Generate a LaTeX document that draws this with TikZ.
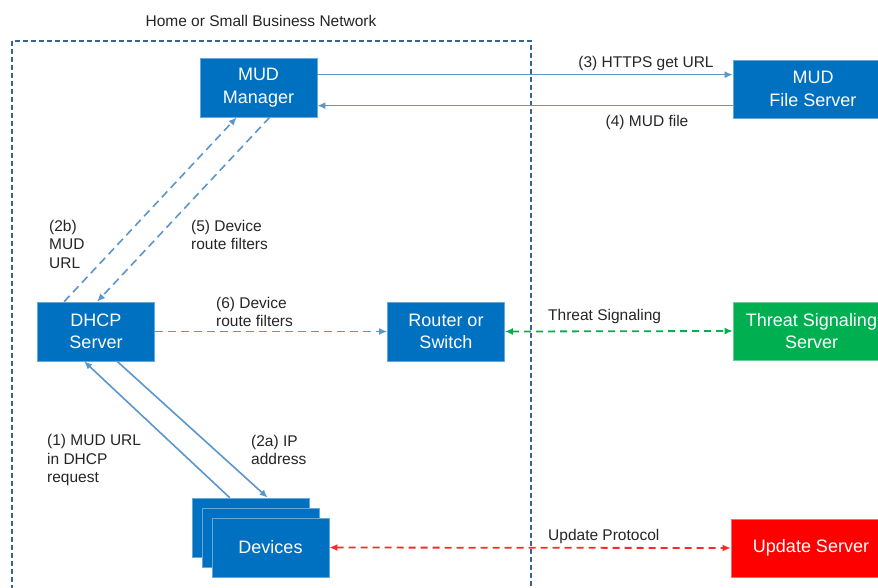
\documentclass[tikz,border=0pt]{standalone}
\usepackage{fontspec}
\setmainfont{Liberation Sans}
\usetikzlibrary{arrows.meta,calc}
\definecolor{boxblue}{RGB}{0,112,192}
\definecolor{boxgreen}{RGB}{0,176,80}
\definecolor{boxred}{RGB}{255,0,0}
\definecolor{linkblue}{RGB}{91,150,205}
\definecolor{netblue}{RGB}{55,100,145}
\definecolor{txt}{RGB}{38,38,38}
\definecolor{dgreen}{RGB}{0,176,80}
\definecolor{dred}{RGB}{255,40,40}
\tikzset{
  box/.style={draw=boxblue!60!white, line width=0.7pt, fill=boxblue, text=white,
    font=\fontsize{18}{22.5}\selectfont, align=center,
    minimum width=117pt, minimum height=59pt, inner sep=0pt},
  lbl/.style={text=txt, font=\fontsize{15.5}{18.5}\selectfont, align=left, inner sep=0pt},
  tip/.style={-{Latex[length=8pt,width=7pt]}},
  link/.style={draw=linkblue, line width=1.6pt, tip},
  dlink/.style={link, dash pattern=on 8pt off 5pt},
  dbl/.style={line width=1.8pt, dash pattern=on 7pt off 5pt, {Latex[length=8pt,width=7pt]}-{Latex[length=8pt,width=7pt]}}
}
\begin{document}
\begin{tikzpicture}[x=1pt,y=-1pt]
\useasboundingbox (0,0) rectangle (878,587);
\fill[white] (0,0) rectangle (878,587);

% network boundary
\draw[draw=netblue, line width=1.4pt, dash pattern=on 5pt off 3pt] (12,41) rectangle (531,610);
\node[lbl] (title) at (261,21) {Home or Small Business Network};

% boxes
\node[box] (mgr) at (258.5,87.5) {MUD\\Manager};
\node[box, minimum width=160pt, minimum height=58pt] (mfs) at (813,89) {MUD\\File Server};
\node[box] (dhcp) at (96,331.5) {DHCP\\Server};
\node[box] (router) at (446,331.5) {Router or\\Switch};
\node[box, fill=boxgreen, draw=boxgreen!60!white, minimum width=157pt, minimum height=58pt] (tss) at (811.5,331) {Threat Signaling\\Server};
\node[box, fill=boxred, draw=boxred!60!white, minimum width=160pt, minimum height=58pt] (upd) at (811,548) {Update Server};

\node[box] (dev1) at (250.5,527.5) {};
\node[box] (dev2) at (260.5,537.5) {};
\node[box] (dev3) at (270.5,547.5) {Devices};

% connectors
\draw[link] ($(mgr.north east)+(0,17)$) -- ($(mfs.north west)+(0,15)$);
\draw[link] ($(mfs.north west)+(0,46)$) -- ($(mgr.north east)+(0,48)$);
\draw[dlink] ($(dhcp.north west)+(27,0)$) -- ($(mgr.south west)+(37,0)$);
\draw[dlink] ($(mgr.south west)+(70,0)$) -- ($(dhcp.north west)+(60,0)$);
\draw[dlink] (dhcp.east) -- (router.west);
\draw[dbl, draw=dgreen] (router.east) -- (tss.west);
\draw[link] ($(dev1.north west)+(38,0)$) -- ($(dhcp.south west)+(47,0)$);
\draw[link] ($(dhcp.south west)+(80,0)$) -- ($(dev1.north west)+(76,0)$);
\draw[dbl, draw=dred] (dev3.east) -- (upd.west);

% labels
\node[lbl] (l3) at (646,63) {(3) HTTPS get URL};
\node[lbl] (l4) at (647,122) {(4) MUD file};
\node[lbl, anchor=west] (l2b) at (49,244) {(2b)\\MUD\\URL};
\node[lbl, anchor=west] (l5) at (191,235) {(5) Device\\route filters};
\node[lbl, anchor=west] (l6) at (216,312) {(6) Device\\route filters};
\node[lbl, anchor=west] (lts) at (548,316) {Threat Signaling};
\node[lbl, anchor=west] (l1) at (47,460) {(1) MUD URL\\in DHCP\\request};
\node[lbl, anchor=west] (l2a) at (251,450) {(2a) IP\\address};
\node[lbl, anchor=west] (lup) at (548,536) {Update Protocol};
\end{tikzpicture}
\end{document}
